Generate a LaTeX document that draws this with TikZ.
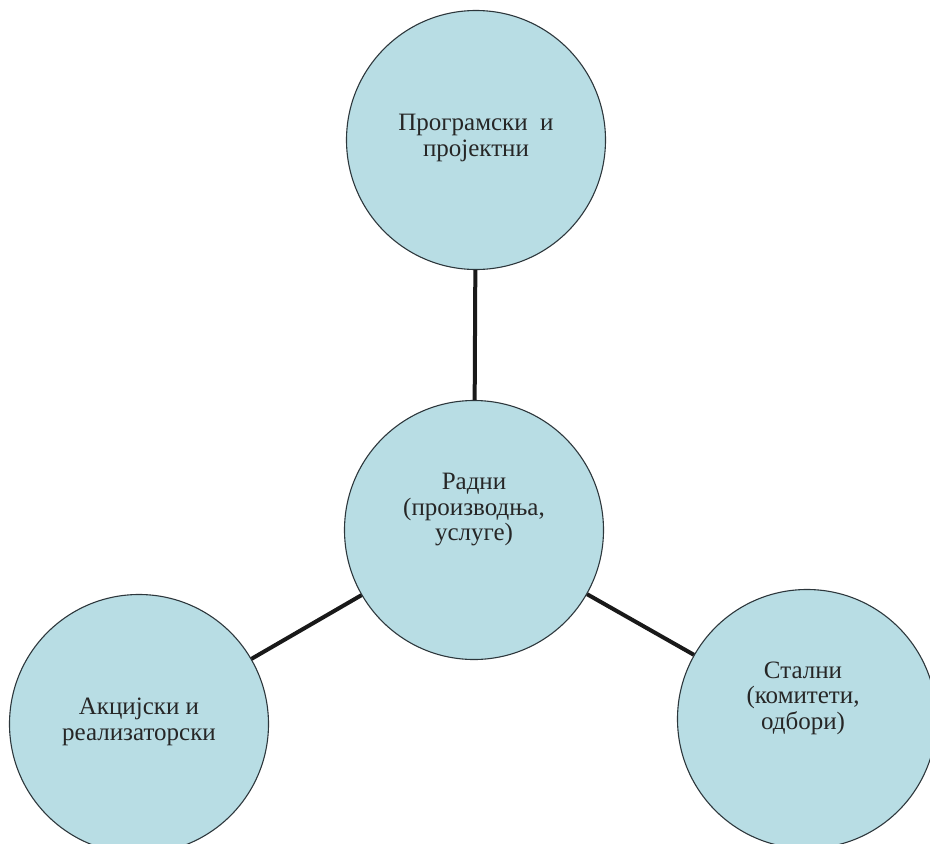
\documentclass[tikz,border=0pt]{standalone}
\usepackage{fontspec}
\setmainfont{Liberation Serif}
\definecolor{blobfill}{RGB}{184,221,228}
\definecolor{blobline}{RGB}{45,55,60}
\begin{document}
\begin{tikzpicture}[x=1pt,y=-1pt,
  blob/.style={circle,draw=blobline,line width=1.1pt,fill=blobfill,minimum size=259pt,inner sep=0pt},
  txt/.style={align=center,font=\fontsize{25}{25.5}\selectfont,text=black!85,inner sep=0pt},
  link/.style={line width=4pt,draw=black!90}]
\useasboundingbox (0,0) rectangle (930,844);
\begin{scope}
\clip (0,0) rectangle (930,844);
% the four group circles
\node[blob] (prog) at (476,140) {};
\node[blob] (work) at (474,530) {};
\node[blob] (act)  at (139,724) {};
\node[blob] (perm) at (807,719) {};
% connectors from the central circle
\draw[link] (prog) -- (work);
\draw[link] (act) -- (work);
\draw[link] (perm) -- (work);
% labels
\node[txt] (progt) at (476,138) {Програмски \ и\\пројектни};
\node[txt] (workt) at (474,510) {Радни\\(производња,\\услуге)};
\node[txt] (actt)  at (139,722) {Акцијски и\\реализаторски};
\node[txt] (permt) at (803,698) {Стални\\(комитети,\\одбори)};
\end{scope}
\end{tikzpicture}
\end{document}
